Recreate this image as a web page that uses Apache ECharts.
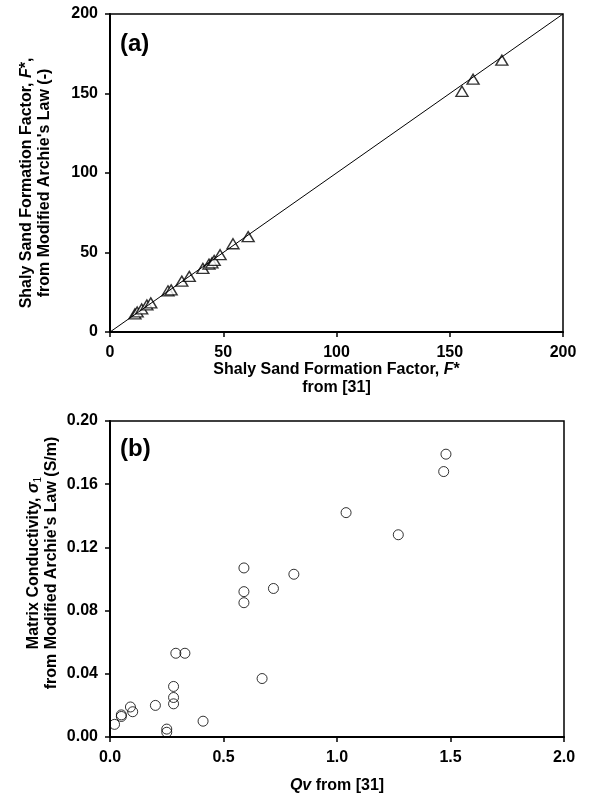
<!DOCTYPE html>
<html>
<head>
<meta charset="utf-8">
<title>Shaly sand formation factor / matrix conductivity</title>
<script src="https://cdn.jsdelivr.net/npm/echarts@6/dist/echarts.min.js"></script>
</head>
<body style="margin:0; background:#fff">
<div id="main" style="width:591px;height:803px"></div>
<script>
// (a) formation factor: [from ref 31, from modified Archie's law]
var fData = [
  [11, 11.4], [12, 12.6], [14, 14.5], [16.3, 17], [18, 18.3],
  [25.6, 25.9], [27, 26.5], [31.7, 32], [35, 35], [41, 40],
  [43.7, 42.7], [45, 43.5], [46, 45], [48.6, 48.6], [54.3, 55.5],
  [61, 60], [155.4, 151.4], [160.3, 159], [173, 171]
];
var oneToOne = [[0, 0], [200, 200]];

// (b) Qv vs matrix conductivity sigma1 (S/m)
var qvData = [
  [0.02, 0.008], [0.05, 0.013], [0.05, 0.014], [0.09, 0.019], [0.10, 0.016],
  [0.20, 0.020], [0.25, 0.005], [0.25, 0.003], [0.28, 0.032], [0.28, 0.025],
  [0.28, 0.021], [0.29, 0.053], [0.33, 0.053], [0.41, 0.010], [0.59, 0.107],
  [0.59, 0.092], [0.59, 0.085], [0.67, 0.037], [0.72, 0.094], [0.81, 0.103],
  [1.04, 0.142], [1.27, 0.128], [1.47, 0.168], [1.48, 0.179]
];

var FONT = "'Liberation Sans', Arial, sans-serif";

function axisBase(extra) {
  var a = {
    axisLine: { onZero: false, lineStyle: { color: '#000', width: 2 } },
    axisTick: { show: true, inside: false, length: 5, lineStyle: { color: '#000', width: 1.5 } },
    axisLabel: { color: '#000', fontSize: 16, fontWeight: 'bold', fontFamily: FONT, margin: 12 },
    splitLine: { show: false },
    nameLocation: 'middle',
    nameMoveOverlap: false,
    nameTextStyle: { color: '#000', fontSize: 16, fontWeight: 'bold', fontFamily: FONT, lineHeight: 18 }
  };
  for (var k in extra) a[k] = extra[k];
  return a;
}

var rich = {
  b: { fontSize: 16, fontWeight: 'bold', fontFamily: FONT, color: '#000', lineHeight: 18 },
  i: { fontSize: 16, fontWeight: 'bold', fontStyle: 'italic', fontFamily: FONT, color: '#000', lineHeight: 18 },
  s: { fontSize: 10, fontWeight: 'normal', fontFamily: FONT, color: '#000', verticalAlign: 'bottom', lineHeight: 18 }
};

var chart = echarts.init(document.getElementById('main'));
chart.setOption({
  backgroundColor: '#fff',
  animation: false,
  grid: [
    { left: 110, right: 28, top: 14, height: 318, show: true, borderColor: '#000', borderWidth: 1.5 },
    { left: 110, right: 27, top: 421, height: 316, show: true, borderColor: '#000', borderWidth: 1.5 }
  ],
  title: [
    { text: '(a)', left: 115, top: 27, textStyle: { fontSize: 24, fontWeight: 'bold', fontFamily: FONT, color: '#000' } },
    { text: '(b)', left: 115, top: 432, textStyle: { fontSize: 24, fontWeight: 'bold', fontFamily: FONT, color: '#000' } }
  ],
  xAxis: [
    axisBase({
      gridIndex: 0, type: 'value', min: 0, max: 200, interval: 50, nameGap: 29,
      name: '{b|Shaly Sand Formation Factor, }{i|F}{b|*}\n{b|from [31]}',
      nameTextStyle: { rich: rich, lineHeight: 17 },
      axisLabel: { color: '#000', fontSize: 16, fontWeight: 'bold', fontFamily: FONT, margin: 13 }
    }),
    axisBase({
      gridIndex: 1, type: 'value', min: 0, max: 2, interval: 0.5, nameGap: 40,
      name: '{i|Qv}{b| from [31]}',
      nameTextStyle: { rich: rich },
      axisLabel: { color: '#000', fontSize: 16, fontWeight: 'bold', fontFamily: FONT, margin: 13,
        formatter: function (v) { return v.toFixed(1); } }
    })
  ],
  yAxis: [
    axisBase({
      gridIndex: 0, type: 'value', min: 0, max: 200, interval: 50, nameGap: 56,
      name: '{b|Shaly Sand Formation Factor, }{i|F}{b|*,}\n{b|from Modified Archie\'s Law (-)}',
      nameTextStyle: { rich: rich, padding: [0, 20, 0, 0] }
    }),
    axisBase({
      gridIndex: 1, type: 'value', min: 0, max: 0.2, interval: 0.04, nameGap: 49,
      name: '{b|Matrix Conductivity, }{i|σ}{s|1}\n{b|from Modified Archie\'s Law (S/m)}',
      nameTextStyle: { rich: rich, padding: [0, 0, 0, 32] },
      axisLabel: { color: '#000', fontSize: 16, fontWeight: 'bold', fontFamily: FONT, margin: 12,
        formatter: function (v) { return v.toFixed(2); } }
    })
  ],
  series: [
    {
      type: 'line', xAxisIndex: 0, yAxisIndex: 0, data: oneToOne,
      showSymbol: false, silent: true,
      lineStyle: { color: '#000', width: 1 }
    },
    {
      type: 'scatter', xAxisIndex: 0, yAxisIndex: 0, data: fData,
      symbol: 'triangle', symbolSize: [12, 10],
      itemStyle: { color: '#fff', borderColor: '#000', borderWidth: 1.4 }
    },
    {
      type: 'scatter', xAxisIndex: 1, yAxisIndex: 1, data: qvData,
      symbol: 'circle', symbolSize: 10,
      itemStyle: { color: 'rgba(255,255,255,0)', borderColor: '#000', borderWidth: 1 }
    }
  ]
});
</script>
</body>
</html>
